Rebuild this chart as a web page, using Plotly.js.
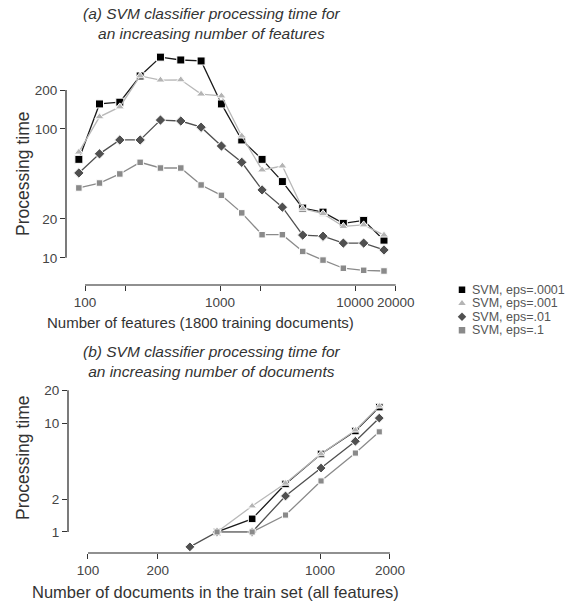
<!DOCTYPE html>
<html>
<head>
<meta charset="utf-8">
<script src="https://cdn.plot.ly/plotly-3.0.1.min.js"></script>
<style>html,body{margin:0;padding:0;background:#fff;}#chart{width:580px;height:607px;}</style>
</head>
<body>
<div id="chart"></div>
<script>
// ---------- data ----------
const seriesNames = ["SVM, eps=.0001", "SVM, eps=.001", "SVM, eps=.01", "SVM, eps=.1"];

// (a) processing time vs number of features
const featX = [90, 128, 181, 256, 362, 512, 724, 1024, 1448, 2048, 2896, 4096, 5793, 8192, 11585, 16384];
const featEps0001 = [58, 156, 161, 257, 360, 342, 336, 156, 82, 58, 39, 24.3, 22.6, 18.5, 19.5, 13.7];
const featEps001  = [66, 124, 148, 257, 239, 240, 186, 180, 88, 48, 51.5, 24, 22, 17.5, 18, 15];
const featEps01   = [45.5, 64, 82, 82, 117, 115, 103, 73.6, 55, 33.6, 24.7, 15.0, 14.7, 13.0, 13, 11.5];
const featEps1    = [34.8, 38, 44.7, 55, 49.7, 49.7, 36.7, 30.5, 22.3, 15.1, 15.1, 11.2, 9.6, 8.3, 8.0, 7.9];

// (b) processing time vs number of documents
const docX = [275, 360, 510, 710, 1010, 1420, 1800];
const docEps0001 = [null, 1.0, 1.32, 2.76, 5.2, 8.45, 14];
const docEps001  = [null, 1.0, 1.73, 2.8, 5.2, 8.6, 14.3];
const docEps01   = [0.73, 1.0, 1.0, 2.14, 3.86, 6.8, 11.1];
const docEps1    = [null, 1.0, 1.0, 1.43, 2.94, 5.3, 8.3];

// tick labels
const featTickVals = [100, 200, 1000, 2000, 10000, 20000];
const featTickText = ["100", "", "1000", "", "10000", "20000"];
const featYTicks = [10, 20, 100, 200];
const docTickVals = [100, 200, 1000, 2000];
const docTickText = ["100", "200", "1000", "2000"];
const docYTicks = [1, 2, 10, 20];

const titleA = "(a) SVM classifier processing time for<br>an increasing number of features";
const titleB = "(b) SVM classifier processing time for<br>an increasing number of documents";
const xTitleA = "Number of features (1800 training documents)";
const xTitleB = "Number of documents in the train set (all features)";
const yTitle = "Processing time";

// ---------- styles ----------
const W = 580, H = 607;
const FONT = "Liberation Sans, Arial, Helvetica, sans-serif";
const styles = [
  {symbol: "square", color: "#000000", line: "#1a1a1a", size: 8},
  {symbol: "triangle-up", color: "#b4b4b4", line: "#b8b8b8", size: 8},
  {symbol: "diamond", color: "#505050", line: "#505050", size: 8},
  {symbol: "square", color: "#8a8a8a", line: "#8a8a8a", size: 6.5}
];
const px = (a, b) => [a / W, b / W];
const py = (top, bottom) => [1 - bottom / H, 1 - top / H];

const featSeries = [featEps0001, featEps001, featEps01, featEps1];
const docSeries = [docEps0001, docEps001, docEps01, docEps1];

const traces = [];
featSeries.forEach((ys, i) => {
  traces.push({
    x: featX, y: ys, xaxis: "x", yaxis: "y", type: "scatter", mode: "lines+markers",
    name: seriesNames[i], showlegend: false, cliponaxis: false,
    line: {color: styles[i].line, width: 1.3},
    marker: {symbol: styles[i].symbol, color: styles[i].color, size: styles[i].size, line: {color: "#ffffff", width: 1}}
  });
});
docSeries.forEach((ys, i) => {
  traces.push({
    x: docX, y: ys, xaxis: "x2", yaxis: "y2", type: "scatter", mode: "lines+markers",
    name: seriesNames[i], showlegend: false, connectgaps: false, cliponaxis: false,
    line: {color: styles[i].line, width: 1.3},
    marker: {symbol: styles[i].symbol, color: styles[i].color, size: styles[i].size * 0.95, line: {color: "#ffffff", width: 1}}
  });
});
// custom compact legend
seriesNames.forEach((n, i) => {
  traces.push({
    x: [0], y: [i], xaxis: "x3", yaxis: "y3", type: "scatter", mode: "markers",
    name: n, showlegend: false, hoverinfo: "skip", cliponaxis: false,
    marker: {symbol: styles[i].symbol, color: styles[i].color, size: 6.5}
  });
});

const axisCommon = {
  showgrid: false, zeroline: false, showline: false,
  ticks: "outside", ticklen: 5, tickwidth: 1, tickcolor: "#333",
  tickfont: {family: FONT, size: 13.5, color: "#444"}
};

const annotations = [
  {text: titleA, x: 212 / W, y: 1 - 24 / H, xref: "paper", yref: "paper", showarrow: false,
   font: {family: FONT, size: 15.5, color: "#333", style: "italic"}, xanchor: "center", yanchor: "middle"},
  {text: titleB, x: 212 / W, y: 1 - 361 / H, xref: "paper", yref: "paper", showarrow: false,
   font: {family: FONT, size: 15.5, color: "#333", style: "italic"}, xanchor: "center", yanchor: "middle"},
  {text: xTitleA, x: 200 / W, y: 1 - 322 / H, xref: "paper", yref: "paper", showarrow: false,
   font: {family: FONT, size: 15, color: "#333"}, xanchor: "center", yanchor: "middle"},
  {text: xTitleB, x: 215 / W, y: 1 - 592 / H, xref: "paper", yref: "paper", showarrow: false,
   font: {family: FONT, size: 16.5, color: "#333"}, xanchor: "center", yanchor: "middle"},
  {text: yTitle, x: 23 / W, y: 1 - 174 / H, xref: "paper", yref: "paper", showarrow: false, textangle: -90,
   font: {family: FONT, size: 17.5, color: "#333"}, xanchor: "center", yanchor: "middle"},
  {text: yTitle, x: 23 / W, y: 1 - 458 / H, xref: "paper", yref: "paper", showarrow: false, textangle: -90,
   font: {family: FONT, size: 17.5, color: "#333"}, xanchor: "center", yanchor: "middle"}
];
seriesNames.forEach((n, i) => {
  annotations.push({text: n, x: 470 / W, xref: "paper", y: i, yref: "y3", showarrow: false,
    xanchor: "left", yanchor: "middle", font: {family: FONT, size: 12.5, color: "#555"}});
});

const axLine = {color: "#222", width: 1.2};
const shapes = [
  {type: "line", xref: "x", yref: "y domain", x0: featTickVals[0], x1: featTickVals[featTickVals.length - 1], y0: 0, y1: 0, line: axLine},
  {type: "line", xref: "x domain", yref: "y", x0: 0, x1: 0, y0: featYTicks[0], y1: featYTicks[featYTicks.length - 1], line: axLine},
  {type: "line", xref: "x2", yref: "y2 domain", x0: docTickVals[0], x1: docTickVals[docTickVals.length - 1], y0: 0, y1: 0, line: axLine},
  {type: "line", xref: "x2 domain", yref: "y2", x0: 0, x1: 0, y0: docYTicks[0], y1: docYTicks[docYTicks.length - 1], line: axLine}
];

const layout = {
  width: W, height: H,
  margin: {l: 0, r: 0, t: 0, b: 0},
  paper_bgcolor: "#fff", plot_bgcolor: "rgba(0,0,0,0)",
  showlegend: false,
  font: {family: FONT, color: "#333"},
  xaxis: Object.assign({}, axisCommon, {type: "log", domain: px(66, 400), range: [1.859, 4.333],
    tickvals: featTickVals, ticktext: featTickText, anchor: "y"}),
  yaxis: Object.assign({}, axisCommon, {type: "log", domain: py(40, 285), range: [0.789, 2.689],
    tickvals: featYTicks, ticktext: featYTicks.map(String), anchor: "x"}),
  xaxis2: Object.assign({}, axisCommon, {type: "log", domain: px(68, 395), range: [1.914, 3.323],
    tickvals: docTickVals, ticktext: docTickText, anchor: "y2"}),
  yaxis2: Object.assign({}, axisCommon, {type: "log", domain: py(385, 553), range: [-0.193, 1.349],
    tickvals: docYTicks, ticktext: docYTicks.map(String), anchor: "x2"}),
  xaxis3: {domain: px(455, 469), range: [-1, 1], visible: false, fixedrange: true, anchor: "y3"},
  yaxis3: {domain: py(283, 337), range: [3.5, -0.5], visible: false, fixedrange: true, anchor: "x3"},
  annotations: annotations,
  shapes: shapes
};

Plotly.newPlot("chart", traces, layout, {displayModeBar: false, staticPlot: true});
</script>
</body>
</html>
